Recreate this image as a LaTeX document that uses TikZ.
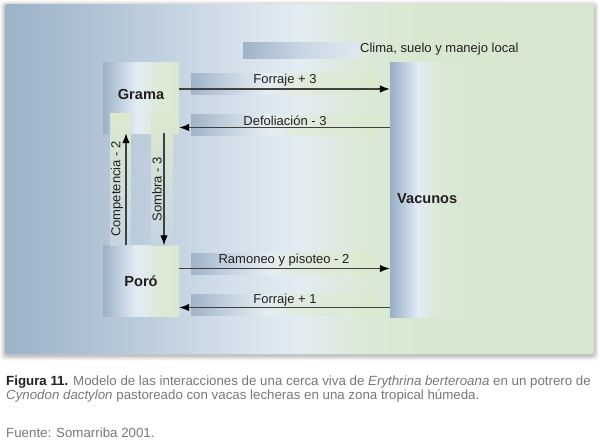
\documentclass[tikz,border=0pt]{standalone}
\usepackage{fontspec}
\setmainfont{Liberation Sans}
\usetikzlibrary{arrows.meta,calc}
% panel colours
\definecolor{P0}{HTML}{9CB2C8}\definecolor{P1}{HTML}{B4C6D7}\definecolor{P2}{HTML}{D3DFEA}
\definecolor{P3}{HTML}{E3ECF3}\definecolor{P4}{HTML}{DBE9D8}\definecolor{P5}{HTML}{D8E8D0}\definecolor{P6}{HTML}{D7E7CF}
% box colours
\definecolor{B0}{HTML}{9AB0C6}\definecolor{B1}{HTML}{C6D5E3}\definecolor{B2}{HTML}{E2ECF4}
\definecolor{B3}{HTML}{DDE9D6}\definecolor{B4}{HTML}{D9E8CF}
% vacunos colours
\definecolor{V0}{HTML}{98AFC6}\definecolor{V1}{HTML}{C0D1E1}\definecolor{V2}{HTML}{E1ECF5}
\definecolor{V3}{HTML}{DBE9D5}\definecolor{V4}{HTML}{D8E8D0}
% label bar colours
\definecolor{L0}{HTML}{A0B4C8}\definecolor{L1}{HTML}{C3D2DF}\definecolor{L2}{HTML}{E4ECF2}
\definecolor{L3}{HTML}{E0EBDC}\definecolor{L4}{HTML}{DBE9CF}
% clima bar
\definecolor{C0}{HTML}{9FB3C8}\definecolor{C1}{HTML}{C8D6E3}\definecolor{C2}{HTML}{E0E9F0}
\definecolor{txt}{HTML}{231F20}
\definecolor{capgray}{HTML}{77787B}
\definecolor{arrgray}{HTML}{404040}
\definecolor{stripTop}{HTML}{DCE9CF}
\definecolor{stripBot}{HTML}{C5D5E2}
% shadings: useful range 25bp..75bp
\pgfdeclarehorizontalshading{panelsh}{100bp}{color(0bp)=(P0); color(25bp)=(P0); color(34bp)=(P1); color(44bp)=(P2); color(50bp)=(P3); color(55bp)=(P4); color(60bp)=(P5); color(75bp)=(P6); color(100bp)=(P6)}
\pgfdeclarehorizontalshading{boxsh}{100bp}{color(0bp)=(B0); color(25bp)=(B0); color(37.5bp)=(B1); color(47.5bp)=(B2); color(62.5bp)=(B3); color(75bp)=(B4); color(100bp)=(B4)}
\pgfdeclarehorizontalshading{vacsh}{100bp}{color(0bp)=(V0); color(25bp)=(V0); color(35bp)=(V1); color(42.5bp)=(V2); color(55bp)=(V3); color(75bp)=(V4); color(100bp)=(V4)}
\pgfdeclarehorizontalshading{labsh}{100bp}{color(0bp)=(L0); color(25bp)=(L0); color(35bp)=(L1); color(45bp)=(L2); color(55bp)=(L3); color(75bp)=(L4); color(100bp)=(L4)}
\pgfdeclarehorizontalshading{climash}{100bp}{color(0bp)=(C0); color(25bp)=(C0); color(50bp)=(C1); color(75bp)=(C2); color(100bp)=(C2)}
\begin{document}
\begin{tikzpicture}[x=1pt,y=-1pt,
  boxnode/.style={shading=boxsh, minimum width=76pt, minimum height=71pt, inner sep=0pt,
    text=txt, font=\fontsize{14.6}{16}\selectfont\bfseries},
  labbar/.style={shading=labsh},
  strip/.style={top color=stripTop, bottom color=stripBot},
  lab/.style={text=txt, font=\fontsize{13}{15}\selectfont, inner sep=0pt},
  link/.style={draw=arrgray, line width=1.2pt, -{Latex[length=10pt,width=7.5pt,black]}},
  captext/.style={anchor=base west, inner sep=0pt, text=capgray, font=\fontsize{13.3}{15}\selectfont}]
\useasboundingbox (0,0) rectangle (600,445);
% panel shadow
\foreach \i/\o in {5/0.03,4/0.04,3/0.05,2/0.06,1/0.08}{
  \fill[black,opacity=\o,rounded corners=4] (5-\i,4-\i+1.5) rectangle (594+\i,354+\i+1.5);}
\shade[shading=panelsh, rounded corners=3] (5,4) rectangle (594,354);
% clima bar and text
\shade[shading=climash] (243,42) rectangle (360,58);
\node[lab, anchor=west] (clima) at (360,49.5) {Clima, suelo y manejo local};
% boxes
\node[boxnode] (grama) at (141,97.5) {\raisebox{6pt}{Grama}};
\node[boxnode] (poro) at (141,281) {Poró};
\node[shading=vacsh, minimum width=80pt, minimum height=255pt, inner sep=0pt] (vacbox) at (430,189.5) {};
\node[text=txt, font=\fontsize{14.6}{16}\selectfont\bfseries, anchor=west, inner sep=0pt] (vacunos) at (397,199) {Vacunos};
% vertical strips
\shade[strip] (110,113) rectangle (131,245);
\shade[strip] (151,113) rectangle (173,245);
% label bars
\foreach \t in {73,114,253,294}{\shade[labbar] (191,\t) rectangle (378,\t+21);}
% named rows
\coordinate (r1) at (0,89);
\coordinate (r2) at (0,127.5);
\coordinate (r3) at (0,268.5);
\coordinate (r4) at (0,307.5);
\coordinate (c1) at (126,0);
\coordinate (c2) at (164,0);
% arrows
\draw[link] (grama.east |- r1) -- (vacbox.west |- r1);
\draw[link] (vacbox.west |- r2) -- (grama.east |- r2);
\draw[link] (poro.east |- r3) -- (vacbox.west |- r3);
\draw[link] (vacbox.west |- r4) -- (poro.east |- r4);
\draw[link] (poro.north -| c1) -- (grama.south -| c1);
\draw[link] (grama.south -| c2) -- (poro.north -| c2);
% labels
\node[lab] (l1) at (285,80) {Forraje + 3};
\node[lab] (l2) at (285,120.5) {Defoliación - 3};
\node[lab] (l3) at (284,260) {Ramoneo y pisoteo - 2};
\node[lab] (l4) at (285,300.5) {Forraje + 1};
\node[lab, rotate=90] (l5) at (117,189) {Competencia - 2};
\node[lab, rotate=90] (l6) at (157,189.5) {Sombra - 3};
% caption
\node[captext] (cap1) at (6,385.5) {\textcolor{txt}{\bfseries Figura 11.} Modelo de las interacciones de una cerca viva de \textit{Erythrina berteroana} en un potrero de};
\node[captext] (cap2) at (6,399.5) {\textit{Cynodon dactylon} pastoreado con vacas lecheras en una zona tropical húmeda.};
\node[captext] (cap3) at (6,437.5) {Fuente: Somarriba 2001.};
\end{tikzpicture}
\end{document}
